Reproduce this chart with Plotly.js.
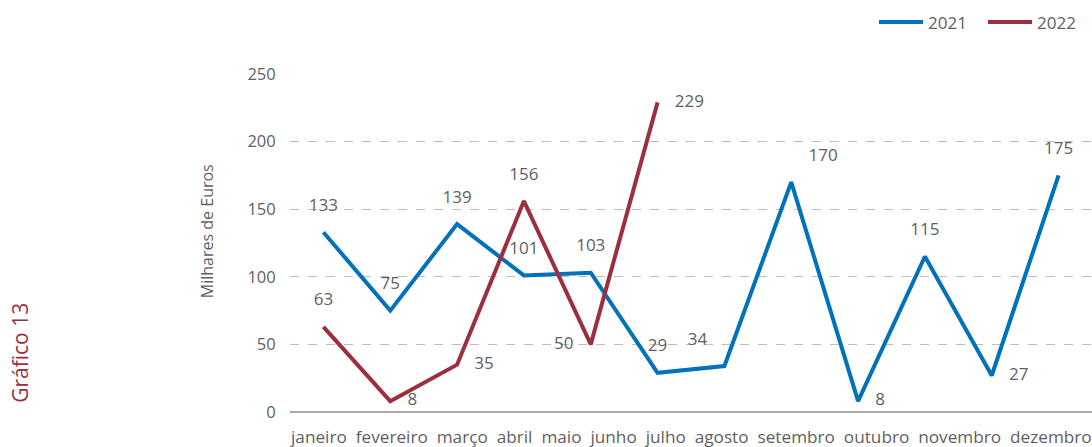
<!DOCTYPE html>
<html>
<head>
<meta charset="utf-8">
<script src="https://cdn.plot.ly/plotly-3.0.1.min.js"></script>
<style>html,body{margin:0;padding:0;background:#fff;}#chart{width:1092px;height:447px;}</style>
</head>
<body>
<div id="chart"></div>
<script>
const months = ["janeiro","fevereiro","março","abril","maio","junho","julho","agosto","setembro","outubro","novembro","dezembro"];
const values2021 = [133,75,139,101,103,29,34,170,8,115,27,175];
const values2022 = [63,8,35,156,50,229];
const seriesNames = ["2021","2022"];
const yTicks = [0,50,100,150,200,250];

const pos2021 = ["top center","top center","top center","top center","top center","top center","top left","top right","middle right","top center","middle right","top center"];
const pos2022 = ["top center","middle right","middle right","top center","middle left","middle right"];

const font = "Open Sans, Noto Sans, sans-serif";
const gray = "#5f5f5f";

function trace(name, vals, color, pos){
  return {
    type:"scatter", mode:"lines+markers+text", name:name,
    x: months.slice(0, vals.length), y: vals,
    text: vals.map(String), textposition: pos,
    textfont:{family:font, size:17, color:gray},
    line:{color:color, width:4},
    marker:{size:26, color:"rgba(0,0,0,0)", line:{width:0}},
    hoverinfo:"skip", cliponaxis:false
  };
}

const data = [
  trace(seriesNames[0], values2021, "#0072bb", pos2021),
  trace(seriesNames[1], values2022, "#9c2f3f", pos2022)
];

const layout = {
  width:1092, height:447,
  margin:{l:290, r:0, t:74, b:35},
  paper_bgcolor:"#fff", plot_bgcolor:"#fff",
  font:{family:font, color:gray},
  showlegend:true,
  legend:{orientation:"h", x:1, xanchor:"right", y:0.95, yanchor:"middle", yref:"container",
          font:{size:17, color:gray}, itemwidth:44, entrywidth:50, traceorder:"normal", bgcolor:"rgba(0,0,0,0)"},
  xaxis:{type:"category", categoryarray:months, range:[-0.5,11.5], showticklabels:false,
         showgrid:false, zeroline:false, showline:false, fixedrange:true},
  yaxis:{range:[0,250], tickvals:yTicks, ticktext:yTicks.map(String),
         tickfont:{size:16.5, color:gray}, ticks:"outside", ticklen:10, tickcolor:"rgba(0,0,0,0)",
         showgrid:true, gridcolor:"#bdbdbd", griddash:"dash", gridwidth:1,
         zeroline:true, zerolinecolor:"#a9a9a9", zerolinewidth:2, showline:false, fixedrange:true},
  annotations:[
    {text: months.join("  "), xref:"paper", yref:"paper", x:0.5, y:0, xanchor:"center", yanchor:"top",
     yshift:-11, showarrow:false, font:{family:font, size:17.2, color:gray}},
    {text:"Milhares de Euros", xref:"paper", yref:"paper", x:0, y:0.535, xanchor:"center", yanchor:"middle",
     xshift:-83, textangle:-90, showarrow:false, font:{family:font, size:16, color:gray}},
    {text:"Gráfico 13", xref:"paper", yref:"paper", x:0, y:0.175, xanchor:"center", yanchor:"middle",
     xshift:-270, textangle:-90, showarrow:false, font:{family:font, size:21, color:"#9c2f3f"}}
  ]
};

Plotly.newPlot("chart", data, layout, {displayModeBar:false, staticPlot:true});
</script>
</body>
</html>
